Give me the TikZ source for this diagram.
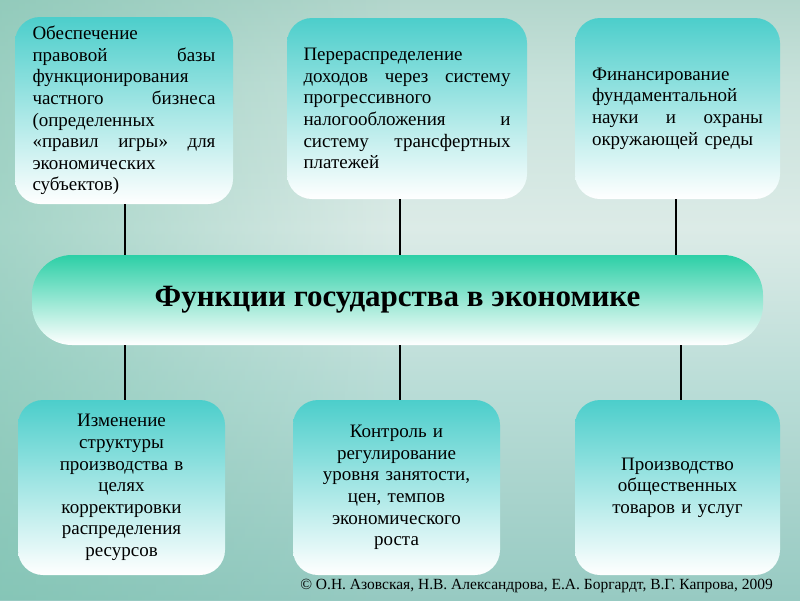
\documentclass[tikz,border=0pt]{standalone}
\usepackage{fontspec}
\setmainfont{Liberation Serif}
\usetikzlibrary{fadings}
\definecolor{bgtop}{HTML}{B3D6CC}
\definecolor{bgup}{HTML}{C8E2DB}
\definecolor{bglight}{HTML}{DCEBE7}
\definecolor{bgmid}{HTML}{B8DCD6}
\definecolor{bgbot}{HTML}{97CAC2}
\definecolor{bgleft}{HTML}{78C2AE}
\definecolor{boxtop}{HTML}{4CCECB}
\definecolor{boxmid}{HTML}{92DEDB}
\definecolor{bartop}{HTML}{2CCFA6}
\definecolor{barmid}{HTML}{8AE2CC}
\pgfdeclareverticalshading{bgshade}{100bp}{color(0bp)=(bgbot); color(25bp)=(bgbot); color(42bp)=(bgmid); color(56bp)=(bglight); color(68bp)=(bgup); color(75bp)=(bgtop); color(100bp)=(bgtop)}
\tikzfading[name=leftdark, left color=transparent!45, right color=transparent!100]
\newcommand\boxfnt{\fontsize{19}{21.6}\selectfont}
\tikzset{
  fbox/.style={rounded corners=25pt, top color=boxtop, middle color=boxmid, bottom color=white,
    inner sep=0pt, font=\boxfnt},
  topbox/.style={fbox, align=left},
  botbox/.style={fbox, align=center},
  titlebar/.style={rounded corners=40pt, top color=bartop, middle color=barmid, bottom color=white,
    inner sep=0pt, font=\fontsize{31}{36}\selectfont\bfseries},
  conn/.style={line width=2pt, black},
  credit/.style={font=\fontsize{15.5}{18}\selectfont, inner sep=0pt, anchor=east}
}
\begin{document}
\begin{tikzpicture}[x=1pt,y=-1pt]
\useasboundingbox (0,0) rectangle (800,600);
\shade[shading=bgshade] (0,0) rectangle (800,600);
\fill[bgleft, path fading=leftdark] (0,0) rectangle (400,600);

\node[topbox, minimum width=218pt, minimum height=187pt, text width=183pt] (b1) at (124,110.5)
 {Обеспечение\\ правовой\hfill базы\\ функционирования\\ частного\hfill бизнеса\\ (определенных\\ «правил\hfill игры»\hfill для\\ экономических\\ субъектов)};
\node[topbox, minimum width=240pt, minimum height=181pt, text width=207pt] (b2) at (407,108.5)
 {Перераспределение\\ доходов\hfill через\hfill систему\\ прогрессивного\\ налогообложения\hfill и\\ систему\hfill трансфертных\\ платежей};
\node[topbox, minimum width=205pt, minimum height=181pt, text width=171pt] (b3) at (677.5,108.5)
 {Финансирование\\ фундаментальной\\ науки\hfill и\hfill охраны\\ окружающей среды};

\node[titlebar, minimum width=731pt, minimum height=90pt] (bar) at (397.5,300)
 {Функции государства в экономике};

\node[botbox, minimum width=207pt, minimum height=175pt, text width=185pt] (b4) at (121.5,487.5)
 {Изменение\\ структуры\\ производства в\\ целях\\ корректировки\\ распределения\\ ресурсов};
\node[botbox, minimum width=207pt, minimum height=175pt, text width=185pt] (b5) at (396.5,487.5)
 {Контроль и\\ регулирование\\ уровня занятости,\\ цен, темпов\\ экономического\\ роста};
\node[botbox, minimum width=205pt, minimum height=175pt, text width=185pt] (b6) at (677.5,487.5)
 {Производство\\ общественных\\ товаров и услуг};

\draw[conn] ([xshift=1pt]b1.south) -- ([xshift=1pt]b1.south |- bar.north);
\draw[conn] ([xshift=-7pt]b2.south) -- ([xshift=-7pt]b2.south |- bar.north);
\draw[conn] ([xshift=-1.5pt]b3.south) -- ([xshift=-1.5pt]b3.south |- bar.north);
\draw[conn] ([xshift=3.5pt]b4.north |- bar.south) -- ([xshift=3.5pt]b4.north);
\draw[conn] ([xshift=3.5pt]b5.north |- bar.south) -- ([xshift=3.5pt]b5.north);
\draw[conn] ([xshift=3.5pt]b6.north |- bar.south) -- ([xshift=3.5pt]b6.north);

\node[credit] (cr) at (773,586) {© О.Н. Азовская, Н.В. Александрова, Е.А. Боргардт, В.Г. Капрова, 2009};
\end{tikzpicture}
\end{document}
